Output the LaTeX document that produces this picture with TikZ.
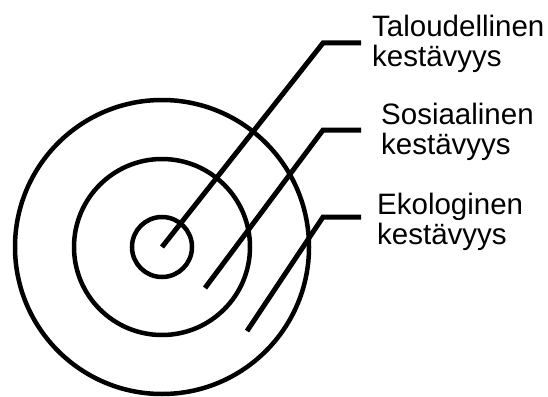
\documentclass[tikz,border=0pt]{standalone}
\usepackage{fontspec}
\setmainfont{Liberation Sans}
\usepackage{tikz}
\usetikzlibrary{positioning, calc}

\begin{document}
\begin{tikzpicture}[x=1pt, y=-1pt,
    ring/.style={circle, draw, line width=4.5pt, inner sep=0pt},
    leader/.style={line width=5pt},
    label/.style={anchor=north west, inner sep=0pt, align=left,
        font=\fontsize{29.5}{30}\selectfont}]
    \useasboundingbox (0,0) rectangle (548,396);

    % Rings
    \node[ring, minimum size=294] (outer) at (162,247) {};
    \node[ring, minimum size=176] (middle) at (162,247) {};
    \node[ring, minimum size=60] (core) at (162,247) {};

    % Labels
    \node[label] (tal) at (372,15) {Taloudellinen\\kestävyys};
    \node[label] (sos) at (381,103) {Sosiaalinen\\kestävyys};
    \node[label] (eko) at (377,193) {Ekologinen\\kestävyys};

    % Leader lines
    \coordinate (t1) at (323,43);
    \coordinate (s0) at (205,288);
    \coordinate (s1) at (323,130);
    \coordinate (e0) at (247,331);
    \coordinate (e1) at (323,217);
    \draw[leader] (core.center) -- (t1) -- ($(t1 -| tal.west)+(-11,0)$);
    \draw[leader] (s0) -- (s1) -- ($(s1 -| sos.west)+(-20,0)$);
    \draw[leader] (e0) -- (e1) -- ($(e1 -| eko.west)+(-16,0)$);
\end{tikzpicture}
\end{document}
